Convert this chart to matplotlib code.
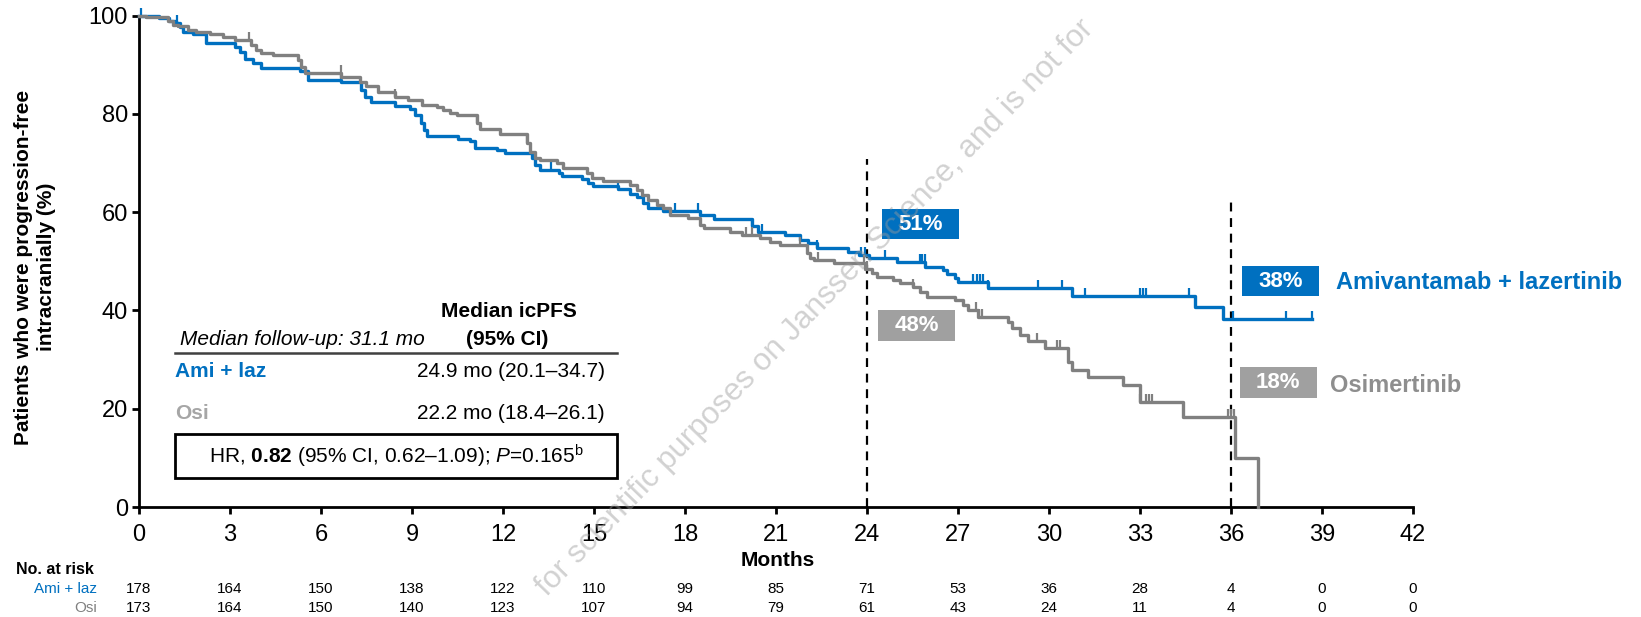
import numpy as np
import matplotlib
matplotlib.use("Agg")
import matplotlib.pyplot as plt
from matplotlib.path import Path
from matplotlib.patches import Rectangle
from matplotlib.transforms import blended_transform_factory

plt.rcParams['font.family'] = ['Liberation Sans', 'DejaVu Sans']
plt.rcParams['mathtext.fontset'] = 'custom'
plt.rcParams['mathtext.rm'] = 'Liberation Sans'
plt.rcParams['mathtext.it'] = 'Liberation Sans:italic'
plt.rcParams['mathtext.bf'] = 'Liberation Sans:bold'

# ---- Kaplan-Meier step data (months, % progression-free intracranially) ----
ami_times = [0, 0.65, 0.98, 1.23, 1.34, 1.45, 1.78, 2.2, 3.15, 3.32, 3.48, 3.76, 4.03,
             5.3, 5.57, 6.67, 7.33, 7.44, 7.66, 8.43, 8.93, 9.1, 9.3, 9.41, 9.48,
             10.53, 10.91, 11.08, 11.79, 12.07, 12.95, 13.06, 13.22, 13.83, 13.94,
             14.6, 14.81, 14.98, 15.8, 16.19, 16.41, 16.63, 16.79, 17.29, 18.5,
             18.94, 20.2, 20.42, 21.3, 21.8, 22.07, 22.35, 23.39, 23.72, 24.05,
             24.98, 25.92, 26.52, 26.63, 26.9, 27.0, 28.0, 30.75, 34.8, 35.75]
ami_surv = [100, 99.6, 99.0, 98.5, 97.7, 96.7, 96.2, 94.5, 93.7, 92.7, 91.1, 90.4, 89.4,
            88.7, 87.0, 86.6, 84.9, 83.5, 82.5, 81.7, 81.0, 79.8, 78.1, 76.7, 75.6,
            74.9, 74.4, 73.1, 72.7, 72.1, 71.0, 69.6, 68.6, 67.9, 67.4,
            66.7, 66.0, 65.4, 64.7, 63.8, 63.0, 61.8, 60.8, 60.3, 59.4,
            58.6, 57.1, 55.9, 55.4, 54.4, 53.7, 52.7, 52.0, 51.3, 50.6,
            49.9, 48.8, 48.2, 47.4, 46.7, 45.7, 44.5, 43.0, 40.8, 38.3]
ami_last = 38.66
ami_censor = [0.05, 1.25, 6.65, 13.58, 15.8, 17.67, 18.44, 20.2, 20.53, 22.35, 23.8,
              23.95, 24.6, 25.75, 25.82, 25.9, 27.51, 27.62, 27.73, 27.84, 28.0,
              29.65, 30.42, 31.2, 33.0, 33.1, 33.2, 34.6, 36.05, 37.8, 38.66]

osi_times = [0, 0.24, 0.95, 1.12, 1.29, 1.62, 1.89, 2.33, 2.77, 3.15, 3.7, 3.87, 4.03,
             4.42, 5.24, 5.35, 5.46, 6.67, 7.27, 7.49, 7.88, 8.43, 8.88, 9.32, 9.81,
             10.03, 10.25, 10.47, 11.13, 11.24, 11.9, 12.78, 12.89, 13.06, 13.22,
             13.77, 13.99, 14.76, 14.92, 15.31, 16.19, 16.41, 16.57, 16.79, 17.07,
             17.29, 17.51, 18.1, 18.5, 18.61, 19.49, 19.87, 20.48, 20.81, 21.14,
             22.02, 22.13, 22.24, 22.9, 23.94, 24.16, 24.32, 24.87, 25.09, 25.53,
             25.75, 25.97, 26.9, 27.18, 27.34, 27.67, 28.66, 28.77, 29.05, 29.32,
             29.87, 30.64, 30.75, 31.3, 32.45, 33.0, 34.43, 36.14, 36.9]
osi_surv = [100, 99.7, 99.0, 98.1, 97.9, 97.1, 96.6, 96.2, 95.7, 95.0, 94.0, 93.0, 92.5,
            92.1, 91.0, 89.6, 88.3, 87.6, 86.6, 85.7, 84.5, 83.5, 82.8, 81.8, 81.5,
            80.8, 80.1, 79.8, 78.1, 76.9, 75.9, 74.0, 72.3, 71.0, 70.6,
            70.0, 69.1, 67.9, 66.9, 66.4, 65.5, 64.5, 63.5, 62.5, 61.5,
            60.8, 59.5, 58.8, 57.4, 56.7, 56.0, 55.4, 54.7, 54.0, 53.3,
            51.8, 50.6, 50.3, 49.6, 48.4, 47.6, 46.9, 46.2, 45.5, 44.8,
            43.8, 42.8, 42.1, 41.1, 40.1, 38.7, 37.7, 36.4, 35.0, 33.7,
            32.3, 29.5, 27.9, 26.5, 24.8, 21.4, 18.4, 9.9, 0.0]
osi_last = 36.9
osi_censor = [3.62, 6.65, 8.43, 11.13, 12.78, 20.0, 20.2, 21.8, 22.4, 23.9, 24.0,
              25.53, 27.6, 27.7, 27.8, 29.6, 30.25, 30.36, 33.0, 33.2, 33.3, 33.38,
              35.9, 36.0, 36.1]

month_ticks = list(range(0, 43, 3))
pct_ticks = [0, 20, 40, 60, 80, 100]
risk_ami = [178, 164, 150, 138, 122, 110, 99, 85, 71, 53, 36, 28, 4, 0, 0]
risk_osi = [173, 164, 150, 140, 123, 107, 94, 79, 61, 43, 24, 11, 4, 0, 0]
landmarks = [24, 36]
landmark_tops = [70.8, 62.7]

arm_names = ["Amivantamab + lazertinib", "Osimertinib"]
short_names = ["Ami + laz", "Osi"]
median_text = ["24.9 mo (20.1\u201334.7)", "22.2 mo (18.4\u201326.1)"]

BLUE = "#0070C0"
GREY = "#808080"
GREY_BOX = "#A0A0A0"
GREY_TXT = "#8E8E8E"
GREY_LIGHT = "#A6A6A6"


def surv_at(times, surv, t):
    i = np.searchsorted(np.asarray(times), t, side="right") - 1
    return np.asarray(surv)[i]


W, H = 1641, 617
fig = plt.figure(figsize=(W / 100, H / 100), dpi=100)
ax = fig.add_axes([139 / W, 1 - 507 / H, (1413 - 139) / W, (507 - 15.7) / H])
ax.set_xlim(0, 42)
ax.set_ylim(0, 100)

for sp in ["top", "right"]:
    ax.spines[sp].set_visible(False)
for sp in ["left", "bottom"]:
    ax.spines[sp].set_linewidth(2.0)

ax.set_xticks(month_ticks)
ax.set_yticks(pct_ticks)
ax.tick_params(axis="both", direction="out", length=5, width=2.0, labelsize=17)
ax.tick_params(axis="x", pad=7)
ax.tick_params(axis="y", pad=3)

# landmark reference lines
for lm, top in zip(landmarks, landmark_tops):
    ax.plot([lm, lm], [0, top], color="black", lw=1.6, ls=(0, (4, 3)), zorder=2)

tick_marker = Path([(0, 0), (0, 1)])
curves = [(ami_times, ami_surv, ami_last, ami_censor, BLUE),
          (osi_times, osi_surv, osi_last, osi_censor, GREY)]
for times, surv, last, cens, col in curves:
    x = list(times) + [last]
    y = list(surv) + [surv[-1]]
    ax.step(x, y, where="post", color=col, lw=2.4, clip_on=False, zorder=3)
    cy = [surv_at(times, surv, c) for c in cens]
    ax.plot(cens, cy, ls="none", marker=tick_marker, ms=11, mew=1.6,
            color=col, clip_on=False, zorder=3)

# landmark percentage boxes
box_specs = [
    (0, 24, 24.5, 57.6, BLUE),
    (1, 24, 24.37, 36.9, GREY_BOX),
    (0, 36, 36.37, 46.0, BLUE),
    (1, 36, 36.3, 25.3, GREY_BOX),
]
box_w, box_h = 2.52, 6.3
for arm, t, x0, yc, col in box_specs:
    times, surv = curves[arm][0], curves[arm][1]
    val = surv_at(times, surv, t)
    ax.add_patch(Rectangle((x0, yc - box_h / 2), box_w, box_h, facecolor=col,
                           edgecolor="none", clip_on=False, zorder=4))
    ax.text(x0 + box_w / 2, yc, f"{int(round(val))}%", color="white",
            fontsize=16, fontweight="bold", ha="center", va="center", zorder=5)

ax.text(39.46, 45.6, arm_names[0], color=BLUE, fontsize=17, fontweight="bold",
        ha="left", va="center", clip_on=False)
ax.text(39.27, 24.8, arm_names[1], color=GREY_TXT, fontsize=17, fontweight="bold",
        ha="left", va="center", clip_on=False)

# median summary table
ax.text(12.2, 39.7, "Median icPFS", fontsize=15, fontweight="bold",
        ha="center", va="center")
ax.text(12.15, 34.0, "(95% CI)", fontsize=15, fontweight="bold",
        ha="center", va="center")
ax.text(1.35, 34.0, "Median follow-up: 31.1 mo", fontsize=15, style="italic",
        ha="left", va="center")
ax.plot([1.19, 15.76], [31.3, 31.3], color="#404040", lw=1.8, zorder=2)
ax.text(1.19, 27.5, short_names[0], color=BLUE, fontsize=15, fontweight="bold",
        ha="left", va="center")
ax.text(15.36, 27.5, median_text[0], fontsize=15, ha="right", va="center")
ax.text(1.19, 19.1, short_names[1], color=GREY_LIGHT, fontsize=15,
        fontweight="bold", ha="left", va="center")
ax.text(15.36, 19.1, median_text[1], fontsize=15, ha="right", va="center")
ax.add_patch(Rectangle((1.19, 5.9), 15.76 - 1.19, 14.86 - 5.9, facecolor="white",
                       edgecolor="black", lw=2.0, zorder=2))
ax.text(8.47, 10.4,
        r"HR, $\mathbf{0.82}$ (95% CI, 0.62" + "\u2013" + r"1.09); $\mathit{P}$=0.165$^{\mathrm{b}}$",
        fontsize=15, ha="center", va="center", zorder=3)

# axis titles
fig.text(35 / W, 1 - 267 / H, "Patients who were progression-free\nintracranially (%)",
         rotation=90, fontsize=15, fontweight="bold", ha="center", va="center",
         linespacing=1.25)
fig.text(778 / W, 1 - 560 / H, "Months", fontsize=15, fontweight="bold",
         ha="center", va="center")

# number at risk
fig.text(16 / W, 1 - 570 / H, "No. at risk", fontsize=11.5, fontweight="bold",
         ha="left", va="center")
fig.text(97 / W, 1 - 589 / H, short_names[0], fontsize=11, color=BLUE,
         ha="right", va="center")
fig.text(97 / W, 1 - 608 / H, short_names[1], fontsize=11, color=GREY,
         ha="right", va="center")
trans = blended_transform_factory(ax.transData, fig.transFigure)
for m, a, o in zip(month_ticks, risk_ami, risk_osi):
    ax.text(m, 1 - 589 / H, str(a), transform=trans, fontsize=11,
            ha="center", va="center", clip_on=False)
    ax.text(m, 1 - 608 / H, str(o), transform=trans, fontsize=11,
            ha="center", va="center", clip_on=False)

# watermark
fig.text(815 / W, 1 - 308 / H,
         "for scientific purposes on Janssen Science, and is not for",
         rotation=46, rotation_mode="anchor", fontsize=22.5, color="#9A9A9A",
         alpha=0.45, ha="center", va="center", zorder=10)

fig.savefig("out.png", dpi=100)
